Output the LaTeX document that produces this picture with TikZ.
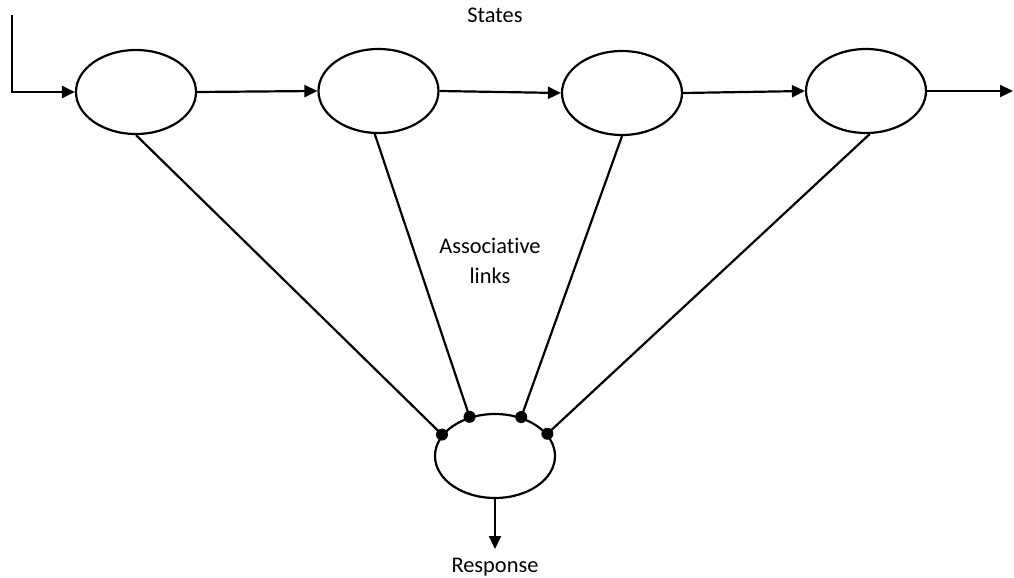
\documentclass[tikz,border=0pt]{standalone}
\usepackage{fontspec}
\setmainfont[Ligatures={NoCommon}]{Carlito}
\usetikzlibrary{shapes.geometric,arrows.meta}
\begin{document}
\begin{tikzpicture}[x=0.5pt,y=-0.5pt,
  line width=1.1pt,
  state/.style={ellipse,draw,line width=1.1pt,minimum width=60pt,minimum height=42pt,inner sep=0pt},
  flow/.style={-{Triangle[length=6.5pt,width=6pt]}},
  joint/.style={circle,fill=black,inner sep=0pt,minimum size=6pt},
  label/.style={font=\fontsize{11.2}{15}\selectfont,align=center,inner sep=0pt}]
\useasboundingbox (0,0) rectangle (1014,578);

% chain of states
\node[state] (e1) at (136,92) {};
\node[state] (e2) at (378.5,91) {};
\node[state] (e3) at (622,93) {};
\node[state] (e4) at (866,91) {};

% response unit
\node[state] (r) at (495,456) {};

% input and output of the chain
\coordinate (in) at (12,15);
\coordinate (out) at (1013,91);
\draw[flow] (in) |- (e1.west);
\draw[flow] (e1.east) -- (e2.west);
\draw[flow] (e2.east) -- (e3.west);
\draw[flow] (e3.east) -- (e4.west);
\draw[flow] (e4.east) -- (out);

% associative links ending in dots on the response unit
\node[joint] (d1) at (r.158) {};
\node[joint] (d2) at (r.123) {};
\node[joint] (d3) at (r.56) {};
\node[joint] (d4) at (r.23) {};
\draw (e1.south) -- (d1.center);
\draw (e2.265) -- (d2.center);
\draw (e3.south) -- (d3.center);
\draw (e4.275) -- (d4.center);

% response output
\coordinate (rout) at (495,549);
\draw[flow] (r.south) -- (rout);

% labels
\node[label] (states) at (495,15) {States};
\node[label] (assoc) at (490,261) {Associative\\links};
\node[label] (resp) at (495,567) {Response};
\end{tikzpicture}
\end{document}
